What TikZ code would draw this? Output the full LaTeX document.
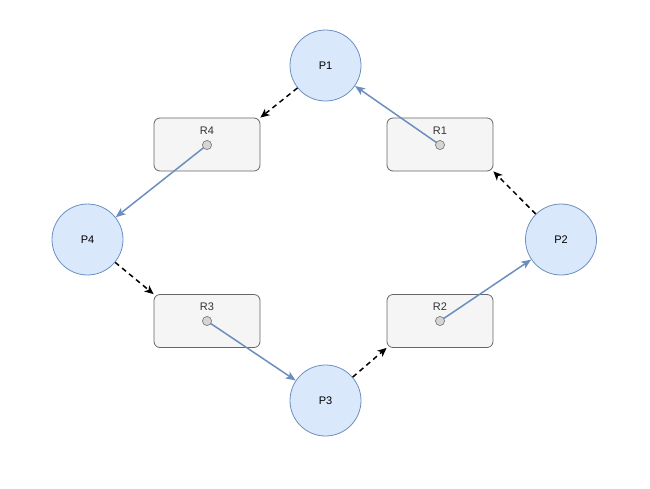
\documentclass[tikz,border=0pt]{standalone}
\usepackage{fontspec}
\setmainfont{Liberation Sans}
\usetikzlibrary{arrows.meta}
\definecolor{pfill}{HTML}{DAE8FC}
\definecolor{pdraw}{HTML}{6C8EBF}
\definecolor{rfill}{HTML}{F5F5F5}
\definecolor{rdraw}{HTML}{666666}
\definecolor{dfill}{HTML}{D5D5D5}
\definecolor{dtext}{HTML}{333333}
\begin{document}
\begin{tikzpicture}[x=1pt,y=-1pt,
  proc/.style={circle,draw=pdraw,fill=pfill,line width=0.8pt,minimum size=71pt,inner sep=0pt,font=\fontsize{11}{13}\selectfont,text=black},
  res/.style={rectangle,rounded corners=6pt,draw=rdraw,fill=rfill,line width=0.8pt,minimum width=106pt,minimum height=53pt,inner sep=0pt},
  rlabel/.style={font=\fontsize{11}{13}\selectfont,text=dtext,inner sep=0pt},
  dotn/.style={circle,draw=gray,fill=dfill,line width=0.6pt,minimum size=9pt,inner sep=0pt},
  req/.style={draw=black,line width=1.5pt,dash pattern=on 5pt off 4pt,-{Stealth[length=9pt,width=8pt,inset=2.5pt]}},
  alloc/.style={draw=pdraw,line width=1.5pt,-{Stealth[length=10pt,width=8pt,inset=2.5pt]}}]
\useasboundingbox (0,0) rectangle (650,488);
\node[proc] (p1) at (325.5,65.5) {P1};
\node[proc] (p2) at (561,239.5) {P2};
\node[proc] (p3) at (325.5,400.5) {P3};
\node[proc] (p4) at (87.5,239.5) {P4};
\node[res] (r4) at (207,144.5) {};
\node[res] (r1) at (440,144.5) {};
\node[res] (r3) at (207,321) {};
\node[res] (r2) at (440,321) {};
\node[rlabel] (l4) at (207,130.5) {R4};
\node[rlabel] (l1) at (440,130.5) {R1};
\node[rlabel] (l3) at (207,307) {R3};
\node[rlabel] (l2) at (440,307) {R2};
\node[dotn] (d4) at (207,145) {};
\node[dotn] (d1) at (440,145) {};
\node[dotn] (d3) at (207,321) {};
\node[dotn] (d2) at (440,321) {};
\draw[req] (p1) -- (r4.north east);
\draw[req] (p4) -- (r3.north west);
\draw[req] (p3) -- (r2.south west);
\draw[req] (p2) -- (r1.south east);
\draw[alloc] (d1.center) -- (p1);
\draw[alloc] (d4.center) -- (p4);
\draw[alloc] (d3.center) -- (p3);
\draw[alloc] (d2.center) -- (p2);
\node[dotn] at (d4) {};
\node[dotn] at (d1) {};
\node[dotn] at (d3) {};
\node[dotn] at (d2) {};
\end{tikzpicture}
\end{document}
